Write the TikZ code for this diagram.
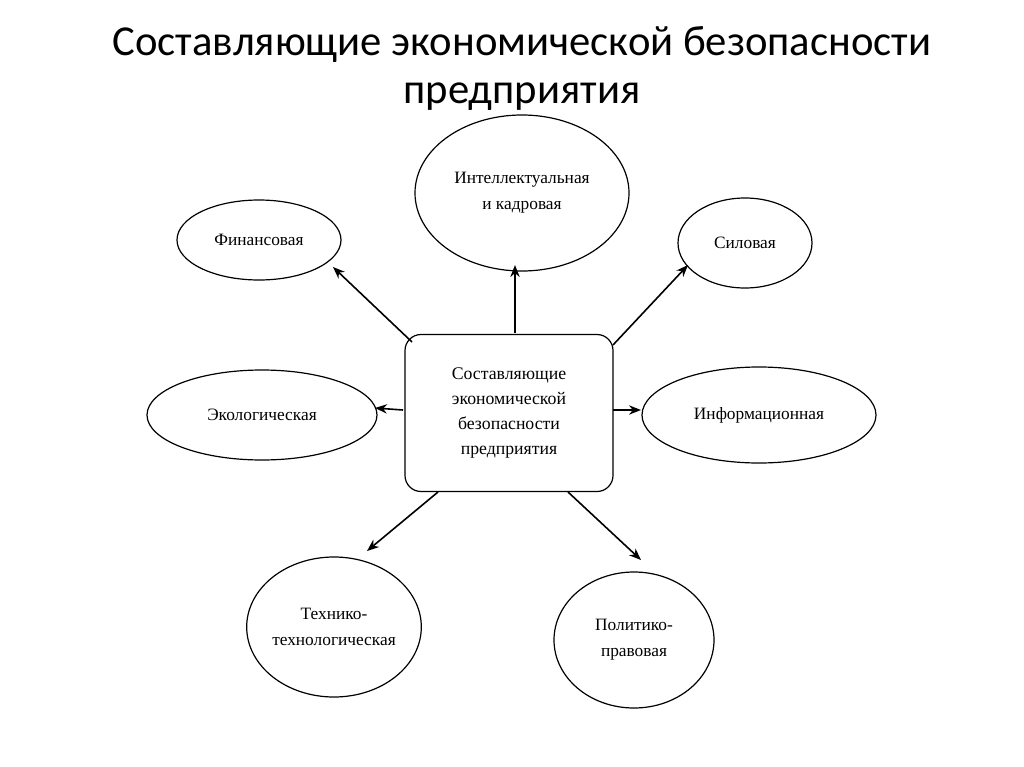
\documentclass[tikz,border=0pt]{standalone}
\usepackage{fontspec}
\setmainfont{Liberation Serif}
\newfontfamily\titlefont{Carlito}
\usetikzlibrary{shapes.geometric,arrows.meta}
\begin{document}
\begin{tikzpicture}[x=0.75pt,y=-0.75pt,
  ell/.style={draw,ellipse,line width=0.9pt,align=center,font=\fontsize{13}{19.5}\selectfont,inner sep=0pt},
  arr/.style={-{Stealth[length=9pt,width=7pt]},line width=1.2pt}]
\useasboundingbox (0,0) rectangle (1024,767);
\node[font=\titlefont\fontsize{32}{36}\selectfont,align=center] (title) at (522,68) {Составляющие экономической безопасности\\предприятия};
\node[draw,rounded corners=12pt,line width=0.9pt,minimum width=208*0.75pt,minimum height=157*0.75pt,align=center,font=\fontsize{13.3}{18.7}\selectfont] (c) at (509,413) {Составляющие\\экономической\\безопасности\\предприятия};
\node[ell,minimum width=164*0.75pt,minimum height=80*0.75pt] (f) at (259,240) {Финансовая};
\node[ell,minimum width=214*0.75pt,minimum height=156*0.75pt] (i) at (522,193) {Интеллектуальная\\и кадровая};
\node[ell,minimum width=134*0.75pt,minimum height=90*0.75pt] (s) at (745,243) {Силовая};
\node[ell,minimum width=230*0.75pt,minimum height=90*0.75pt] (e) at (262,415) {Экологическая};
\node[ell,minimum width=234*0.75pt,minimum height=96*0.75pt] (n) at (759,415) {Информационная};
\node[ell,minimum width=170*0.75pt,minimum height=140*0.75pt] (t) at (334,627) {Технико-\\технологическая};
\node[ell,minimum width=160*0.75pt,minimum height=136*0.75pt] (p) at (634,640) {Политико-\\правовая};
\coordinate (a1) at (412,342); \coordinate (b1) at (333,267);
\coordinate (a2) at (515,333); \coordinate (b2) at (515,265);
\coordinate (a3) at (613,345); \coordinate (b3) at (688,265);
\coordinate (a4) at (403,410); \coordinate (b4) at (375,408);
\coordinate (a5) at (613,410); \coordinate (b5) at (641,410);
\coordinate (a6) at (438,492); \coordinate (b6) at (367,551);
\coordinate (a7) at (568,492); \coordinate (b7) at (641,560);
\foreach \k in {1,...,7}{\draw[arr] (a\k) -- (b\k);}
\end{tikzpicture}
\end{document}
